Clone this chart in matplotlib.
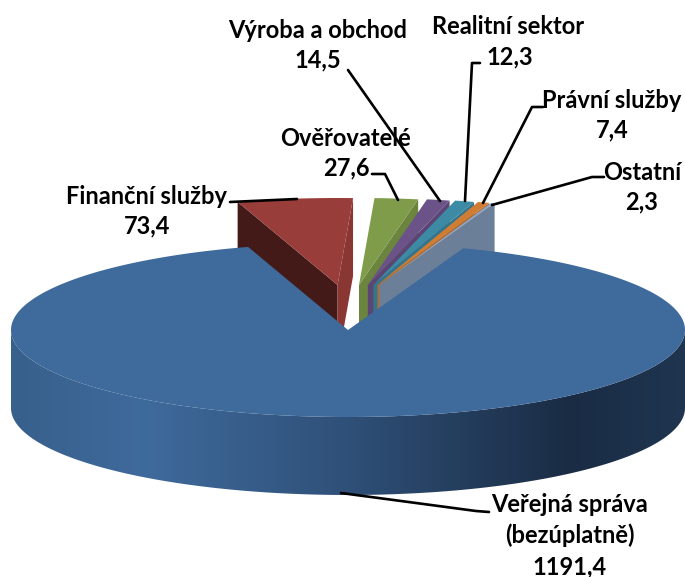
import numpy as np
import matplotlib
matplotlib.use("Agg")
import matplotlib.pyplot as plt
from matplotlib.colors import LinearSegmentedColormap
from matplotlib.patches import Polygon

# Data, clockwise starting from the large public administration slice
labels = ["Veřejná správa\n(bezúplatně)", "Finanční služby", "Ověřovatelé",
          "Výroba a obchod", "Realitní sektor", "Právní služby", "Ostatní"]
values = [1191.4, 73.4, 27.6, 14.5, 12.3, 7.4, 2.3]
value_labels = ["1191,4", "73,4", "27,6", "14,5", "12,3", "7,4", "2,3"]

top_colors = ["#3f6a9c", "#983d3a", "#7f9c4a", "#6b5288", "#3c8aa3", "#d07c33", "#8ba7cc"]
wall_colors = [None, "#8a3633", "#6b853e", "#5b4574", "#33768c", "#b36a2b", "#6b7f99"]

# Pie geometry in image pixels
CX, CY = 348, 330
RX, RY = 337, 87
DEPTH = 78
START = 20.0        # degrees clockwise from the top
EXPLODE_X = 90
EXPLODE_Y = 285


def rim(center, theta_deg):
    t = np.radians(theta_deg)
    return center[0] + RX * np.sin(t), center[1] - RY * np.cos(t)


def sector(center, a0, a1):
    # polygon of a pie top face between two angles
    th = np.linspace(a0, a1, max(int(abs(a1 - a0) * 2), 2))
    xs, ys = rim(center, th)
    return np.column_stack([np.r_[center[0], xs], np.r_[center[1], ys]])


fig = plt.figure(figsize=(6.85, 5.77), dpi=100)
ax = fig.add_axes([0, 0, 1, 1])
ax.set_xlim(0, 685)
ax.set_ylim(577, 0)
ax.axis("off")

spans = np.array(values) / np.sum(values) * 360
ends = START + np.cumsum(spans)
starts = ends - spans

# ── Exploded small slices, painted left to right ─────────────────────────
for i in range(1, len(values)):
    a0, a1 = starts[i] - 360, ends[i] - 360
    mid = (a0 + a1) / 2
    apex = (CX + 1 + EXPLODE_X * np.sin(np.radians(mid)), EXPLODE_Y)
    left = rim(apex, a0)
    right = rim(apex, a1)
    if i == 1:
        # only the red slice shows its left wall
        ax.add_patch(Polygon([apex, left, (left[0], left[1] + DEPTH),
                              (apex[0], apex[1] + DEPTH)],
                             fc="#431a17", ec="none", zorder=2))
    ax.add_patch(Polygon([apex, right, (right[0], right[1] + DEPTH),
                          (apex[0], apex[1] + DEPTH)],
                         fc=wall_colors[i], ec="none", zorder=2 + i * 0.1))
    ax.add_patch(Polygon(sector(apex, a0, a1), fc=top_colors[i], ec="none",
                         zorder=2 + i * 0.1 + 0.01))

# ── Side of the large slice, with the horizontal shading ─────────────────
theta = np.linspace(90, 270, 240)
side_x, side_y = rim((CX, CY), theta)
side = np.r_[np.column_stack([side_x, side_y]),
             np.column_stack([side_x, side_y + DEPTH])[::-1]]
side_patch = Polygon(side, fc="none", ec="none", zorder=3)
ax.add_patch(side_patch)
shade = LinearSegmentedColormap.from_list(
    "shade",
    [(0.0, "#38608c"), (0.2, "#3f6a9c"), (0.5, "#2f5078"),
     (0.83, "#1a2c44"), (1.0, "#1f3550")],
)
img = ax.imshow(np.linspace(0, 1, 256)[None, :], cmap=shade, aspect="auto",
                extent=(CX - RX, CX + RX, 520, 320), zorder=3)
img.set_clip_path(side_patch)
ax.set_xlim(0, 685)
ax.set_ylim(577, 0)

# ── Top of the large slice ───────────────────────────────────────────────
ax.add_patch(Polygon(sector((CX, CY), starts[0], ends[0]), fc=top_colors[0],
                     ec="none", zorder=4))

# ── Labels and leader lines ──────────────────────────────────────────────
text_style = dict(family="Lato", fontsize=17, fontweight="bold", color="black",
                  ha="center", va="center", zorder=6)
label_pos = [(570, 520), (147, 196), (346, 139), (318, 31), (508, 27), (612, 100), (642, 172)]
value_pos = [(570, 567), (147, 226), (346, 168), (318, 60), (510, 57), (612, 130), (642, 202)]
leaders = [
    [(341, 493), (476, 511), (489, 512)],
    [(230, 202), (297, 199)],
    [(372, 174), (385, 174), (398, 200)],
    [(348, 70), (440, 201)],
    [(480, 63), (472, 63), (465, 201)],
    [(543, 107), (532, 107), (483, 203)],
    [(604, 177), (592, 177), (492, 205)],
]

for i, name in enumerate(labels):
    if "\n" in name:
        first, second = name.split("\n")
        ax.text(label_pos[i][0], 505, first, **text_style)
        ax.text(label_pos[i][0], 535, second, **text_style)
    else:
        ax.text(*label_pos[i], name, **text_style)
    ax.text(*value_pos[i], value_labels[i], **text_style)
    xs, ys = zip(*leaders[i])
    ax.plot(xs, ys, color="black", lw=1.9, solid_capstyle="round", zorder=5)

fig.savefig("out.png", dpi=100)
